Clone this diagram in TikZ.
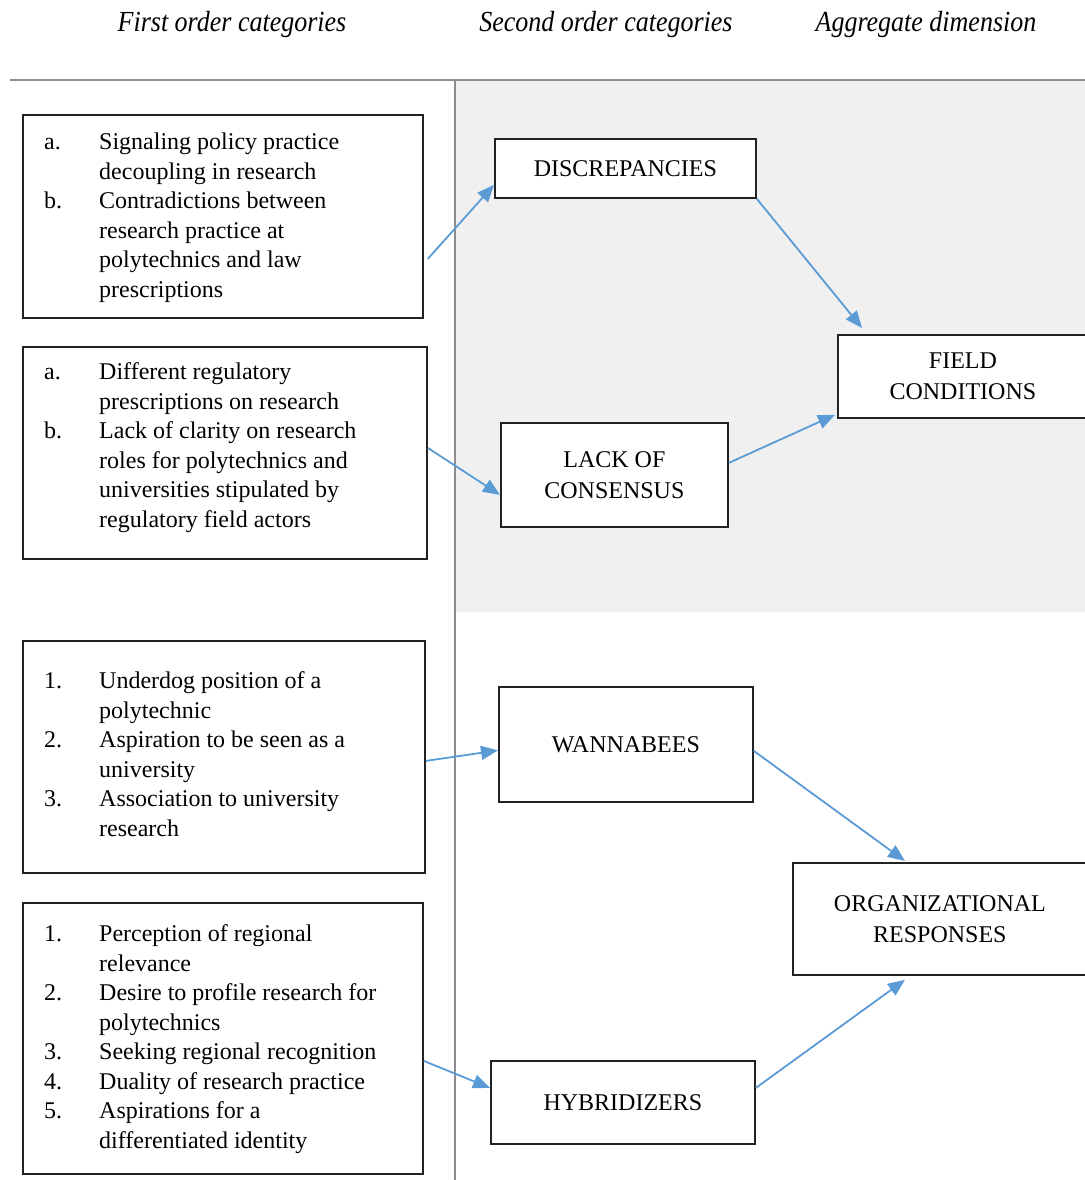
\documentclass[tikz,border=0pt]{standalone}
\usepackage{fontspec}
\setmainfont{Liberation Serif}
\usetikzlibrary{arrows.meta,calc}
\definecolor{arr}{HTML}{5B9BD5}
\definecolor{bgg}{HTML}{F0F0F0}
\definecolor{sepc}{HTML}{8C8C8C}
\definecolor{boxc}{HTML}{222222}
\newcommand{\itemtab}[1]{\begin{tabular}{@{}p{55pt}@{}l@{}}#1\end{tabular}}
\begin{document}
\begin{tikzpicture}[x=1pt,y=-1pt,
  leftbox/.style={draw=boxc,line width=1.8pt,fill=white,anchor=north west,inner sep=0pt},
  rightbox/.style={draw=boxc,line width=1.8pt,fill=white,anchor=north west,inner sep=0pt,align=center,font=\fontsize{24}{31}\selectfont},
  itemtext/.style={anchor=north west,inner sep=0pt,font=\fontsize{24}{29.5}\selectfont},
  hdr/.style={inner sep=0pt,yscale=1.12,font=\fontsize{26}{30}\selectfont\itshape},
  conn/.style={draw=arr,line width=1.8pt,-{Triangle[length=17pt,width=14pt]}}]
\useasboundingbox (0,0) rectangle (1084,1180);
% background zone
\fill[bgg] (455,80) rectangle (1090,612);
\draw[sepc,line width=2pt] (10,80) -- (1090,80);
\draw[sepc,line width=1.5pt] (455,80) -- (455,1185);
% headers
\node[hdr] (h1) at (232,24) {First order categories};
\node[hdr] (h2) at (606,24) {Second order categories};
\node[hdr] (h3) at (926,24) {Aggregate dimension};
% left boxes
\node[leftbox,minimum width=400pt,minimum height=203pt] (b1) at (22,114) {};
\node[itemtext] (t1) at (44,129) {\itemtab{a. & Signaling policy practice\\ & decoupling in research\\ b. & Contradictions between\\ & research practice at\\ & polytechnics and law\\ & prescriptions}};
\node[leftbox,minimum width=404pt,minimum height=212pt] (b2) at (22,346) {};
\node[itemtext] (t2) at (44,359) {\itemtab{a. & Different regulatory\\ & prescriptions on research\\ b. & Lack of clarity on research\\ & roles for polytechnics and\\ & universities stipulated by\\ & regulatory field actors}};
\node[leftbox,minimum width=402pt,minimum height=232pt] (b3) at (22,640) {};
\node[itemtext] (t3) at (44,668) {\itemtab{1. & Underdog position of a\\ & polytechnic\\ 2. & Aspiration to be seen as a\\ & university\\ 3. & Association to university\\ & research}};
\node[leftbox,minimum width=400pt,minimum height=271pt] (b4) at (22,902) {};
\node[itemtext] (t4) at (44,921) {\itemtab{1. & Perception of regional\\ & relevance\\ 2. & Desire to profile research for\\ & polytechnics\\ 3. & Seeking regional recognition\\ 4. & Duality of research practice\\ 5. & Aspirations for a\\ & differentiated identity}};
% right boxes
\node[rightbox,minimum width=261pt,minimum height=59pt] (disc) at (494,138) {DISCREPANCIES};
\node[rightbox,minimum width=227pt,minimum height=104pt] (lack) at (500,422) {LACK OF\\CONSENSUS};
\node[rightbox,minimum width=250pt,minimum height=83pt] (field) at (837,334) {FIELD\\CONDITIONS};
\node[rightbox,minimum width=254pt,minimum height=115pt] (wanna) at (498,686) {WANNABEES};
\node[rightbox,minimum width=294pt,minimum height=112pt] (org) at (792,862) {ORGANIZATIONAL\\RESPONSES};
\node[rightbox,minimum width=264pt,minimum height=83pt] (hyb) at (490,1060) {HYBRIDIZERS};
% connectors
\draw[conn] ([xshift=4pt,yshift=-42.5pt]b1.east) -- ([yshift=-16.5pt]disc.west);
\draw[conn] (disc.south east) -- ([xshift=25pt,yshift=6pt]field.north west);
\draw[conn] ([yshift=5pt]b2.east) -- ([yshift=-20pt]lack.west);
\draw[conn] ([yshift=12pt]lack.east) -- ([xshift=-2pt,yshift=4pt]field.south west);
\draw[conn] ([yshift=-4pt]b3.east) -- ([yshift=-6pt]wanna.west);
\draw[conn] ([yshift=-6.5pt]wanna.east) -- ([xshift=113pt,yshift=1pt]org.north west);
\draw[conn] ([yshift=-22.5pt]b4.east) -- ([yshift=14.5pt]hyb.west);
\draw[conn] ([yshift=14.5pt]hyb.east) -- ([xshift=113pt,yshift=-4pt]org.south west);
\end{tikzpicture}
\end{document}
